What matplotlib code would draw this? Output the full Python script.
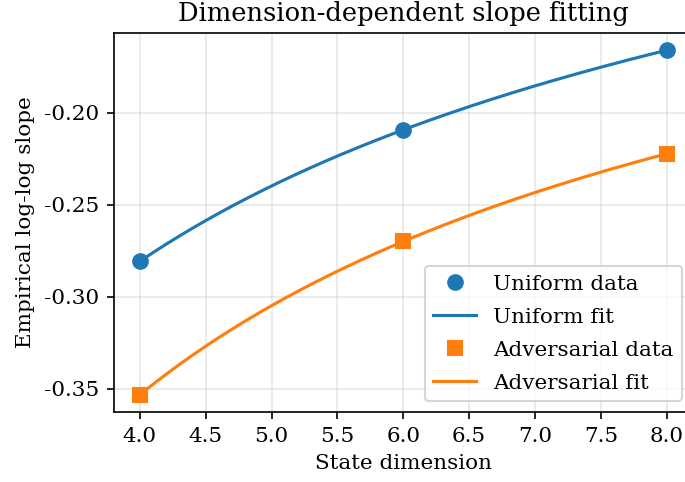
import numpy as np
import matplotlib
matplotlib.use("Agg")
import matplotlib.pyplot as plt

plt.rcParams['font.family'] = ['DejaVu Serif']
plt.rcParams['font.size'] = 10.3
plt.rcParams['axes.unicode_minus'] = False

# slope measured at each state dimension
dims = np.array([4.0, 6.0, 8.0])
uniform_slope = np.array([-0.2807, -0.2092, -0.1659])
adversarial_slope = np.array([-0.3533, -0.2699, -0.2222])


def fit_power(x, y):
    # y = a + b * x**c, c found by a simple scan, a and b by least squares
    best = None
    for c in np.linspace(-3, 1, 4001):
        if abs(c) < 1e-9:
            continue
        A = np.column_stack([np.ones_like(x), x ** c])
        coef, *_ = np.linalg.lstsq(A, y, rcond=None)
        err = np.sum((A @ coef - y) ** 2)
        if best is None or err < best[0]:
            best = (err, coef[0], coef[1], c)
    _, a, b, c = best
    return lambda t: a + b * t ** c


xs = np.linspace(dims.min(), dims.max(), 200)
uni_fit = fit_power(dims, uniform_slope)
adv_fit = fit_power(dims, adversarial_slope)

fig = plt.figure(figsize=(685 / 150, 482 / 150), dpi=150)
ax = fig.add_axes([0.1657, 0.1452, 0.846, 0.7863])

ax.plot(dims, uniform_slope, 'o', color='C0', markersize=7, label='Uniform data', zorder=3)
ax.plot(xs, uni_fit(xs), '-', color='C0', linewidth=1.5, label='Uniform fit')
ax.plot(dims, adversarial_slope, 's', color='C1', markersize=7, label='Adversarial data', zorder=3)
ax.plot(xs, adv_fit(xs), '-', color='C1', linewidth=1.5, label='Adversarial fit')

ax.set_xticks(np.arange(4.0, 8.01, 0.5))
ax.set_yticks([-0.35, -0.30, -0.25, -0.20])
ax.grid(True, alpha=0.3)
ax.set_xlabel('State dimension')
ax.set_ylabel('Empirical log-log slope')
ax.set_title('Dimension-dependent slope fitting')
ax.legend(loc='lower right', labelspacing=0.65)

fig.savefig('out.png', dpi=150)
